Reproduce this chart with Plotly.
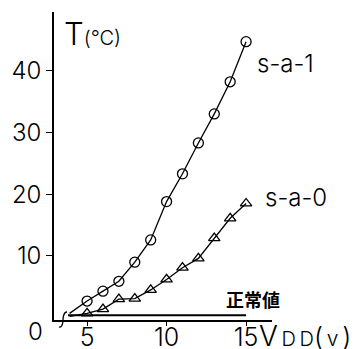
import plotly.graph_objects as go

# Data
vdd = [5, 6, 7, 8, 9, 10, 11, 12, 13, 14, 15]
t_sa1 = [2.7, 4.3, 5.9, 9.0, 12.6, 18.8, 23.3, 28.3, 33.0, 38.2, 44.7]
t_sa0 = [0.7, 1.4, 3.0, 3.1, 4.5, 6.2, 8.1, 9.6, 12.9, 16.1, 18.5]
line_start_x = [3.9]
line_start_sa1 = [0.7]
line_start_sa0 = [0.2]
normal_x = [3.8, 15]
normal_t = [0.4, 0.4]
x_ticks = [5, 10, 15]
y_ticks = [10, 20, 30, 40]

W, H = 356, 349
L, R, T, B = 54, 84, 12, 29
pw, ph = W - L - R, H - T - B


def px(x):
    return (x - L) / pw


def py(y):
    return (H - B - y) / ph


FONT = "Inter"
WT = 300
fig = go.Figure()

fig.add_trace(go.Scatter(
    x=line_start_x + vdd, y=line_start_sa1 + t_sa1, mode="lines",
    line=dict(color="black", width=1.3), showlegend=False, hoverinfo="skip"))
fig.add_trace(go.Scatter(
    x=vdd, y=t_sa1, mode="markers",
    marker=dict(symbol="circle-open", size=10, color="black", line=dict(width=1.3)),
    showlegend=False))
fig.add_trace(go.Scatter(
    x=line_start_x + vdd, y=line_start_sa0 + t_sa0, mode="lines",
    line=dict(color="black", width=1.3), showlegend=False, hoverinfo="skip"))
fig.add_trace(go.Scatter(
    x=vdd, y=t_sa0, mode="markers",
    marker=dict(symbol="triangle-up-open", size=10, color="black", line=dict(width=1.3)),
    showlegend=False))
fig.add_trace(go.Scatter(
    x=normal_x, y=normal_t, mode="lines",
    line=dict(color="black", width=2), showlegend=False))

fig.update_xaxes(
    range=[2.92, 16.63], tickvals=x_ticks, ticktext=[str(v) for v in x_ticks],
    ticks="outside", ticklen=4, tickwidth=1.2, tickcolor="black", automargin=False,
    ticklabelstandoff=-10,
    showline=True, linecolor="black", linewidth=2, showgrid=False, zeroline=False,
    tickfont=dict(family=FONT, size=25, color="black", weight=WT))
fig.update_yaxes(
    range=[-0.37, 49.5], tickvals=y_ticks, ticktext=[str(v) for v in y_ticks],
    ticks="outside", ticklen=6, tickwidth=1.2, tickcolor="black", automargin=False,
    showline=True, linecolor="black", linewidth=1.5, showgrid=False, zeroline=False,
    tickfont=dict(family=FONT, size=24, color="black", weight=WT))

TS = "\u2009"  # thin space
vdd_label = ("V<span style='font-size:20px'>" + TS + "D" + TS + "D</span>"
             "<span style='font-size:26px'>(</span>"
             "<span style='font-size:21px'>" + TS + "v" + TS + "</span>"
             "<span style='font-size:26px'>)</span>")

ann = [
    dict(x=px(62), y=py(34), text="T<span style='font-size:20px'>(°C)</span>",
         xanchor="left", font=dict(size=31)),
    dict(x=px(285), y=py(64), text="s-a-1", font=dict(size=24)),
    dict(x=px(296), y=py(197), text="s-a-0", font=dict(size=24)),
    dict(x=px(253), y=py(299), text="<b>正常値</b>",
         font=dict(size=18, family="Noto Sans CJK JP", weight=700)),
    dict(x=px(35), y=py(331), text="0", font=dict(size=24)),
    dict(x=px(257), y=py(336), xanchor="left", text=vdd_label, font=dict(size=28)),
]
for a in ann:
    a.setdefault("xanchor", "center")
    a["font"].setdefault("family", FONT)
    a["font"].setdefault("weight", WT)
    a["font"]["color"] = "black"
    fig.add_annotation(xref="paper", yref="paper", yanchor="middle",
                       showarrow=False, **a)

# axis-break squiggle (decoration), in paper coordinates
pts = [(59, 327), (63, 328), (63, 320), (63, 312), (67, 312)]
p = [(px(a), py(b)) for a, b in pts]
path = "M {:.4f},{:.4f} C {:.4f},{:.4f} {:.4f},{:.4f} {:.4f},{:.4f} S {:.4f},{:.4f} {:.4f},{:.4f}".format(
    p[0][0], p[0][1], p[1][0], p[1][1], p[2][0], p[2][1], p[2][0], p[2][1],
    p[3][0], p[3][1], p[4][0], p[4][1])
fig.add_shape(type="path", xref="paper", yref="paper", path=path,
              line=dict(color="black", width=1.3))

fig.update_layout(
    width=W, height=H, margin=dict(l=L, r=R, t=T, b=B),
    paper_bgcolor="white", plot_bgcolor="white", showlegend=False)

fig.write_html(
    "out.html",
    config={"displayModeBar": False},
    post_script="document.body.style.margin='0';document.body.style.padding='0';")
